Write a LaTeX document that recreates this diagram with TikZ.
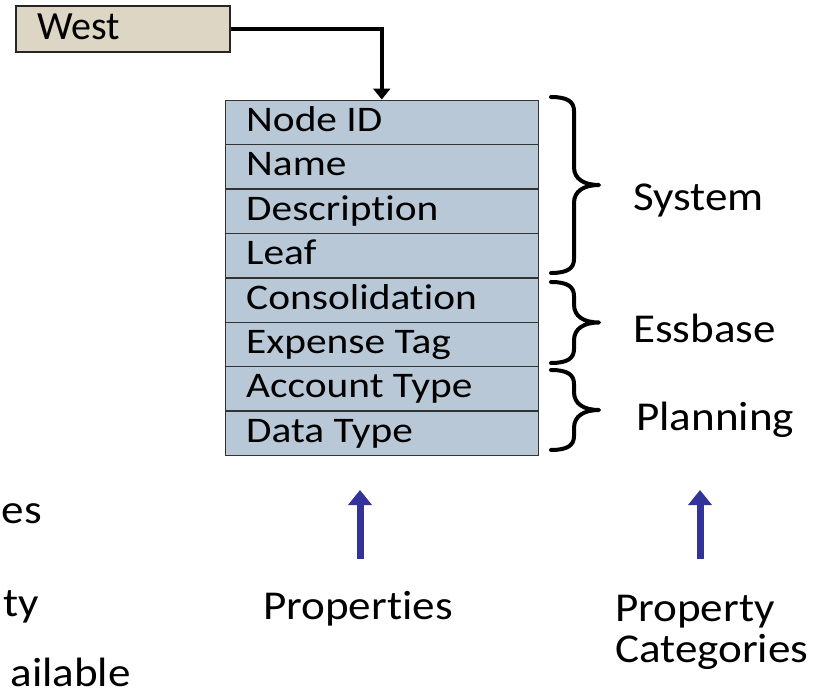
\documentclass[tikz,border=0pt]{standalone}
\usepackage{fontspec}
\setmainfont{Carlito}[Ligatures=CommonOff]
\newfontfamily\tablefont{Carlito}[Ligatures=CommonOff, FakeStretch=1.15]
\newfontfamily\labelfont{Carlito}[Ligatures=CommonOff, FakeStretch=1.1]
\usetikzlibrary{arrows.meta,calc}
\definecolor{westfill}{RGB}{221,214,196}
\definecolor{rowfill}{RGB}{185,200,214}
\definecolor{arrowblue}{RGB}{51,51,153}
\newcommand{\drawbrace}[2]{%
  \pgfmathsetmacro{\ya}{#1}\pgfmathsetmacro{\yb}{#2}\pgfmathsetmacro{\ym}{(#1+#2)/2}%
  \draw[bracestyle] (551,\ya) .. controls (568,\ya) and (574,\ya+5) .. (574,\ya+14)
    -- (574,\ym-18) .. controls (574,\ym-6) and (584,\ym) .. (599,\ym)
    .. controls (584,\ym) and (574,\ym+6) .. (574,\ym+18)
    -- (574,\yb-14) .. controls (574,\yb-5) and (568,\yb) .. (551,\yb);}
\begin{document}
\begin{tikzpicture}[x=1pt,y=-1pt,
  rowtext/.style={font=\tablefont\fontsize{36}{43}\selectfont, inner sep=0pt, anchor=base west},
  lbl/.style={font=\labelfont\fontsize{41}{41}\selectfont, inner sep=0pt},
  rowbox/.style={draw=black!80, line width=1.5pt, fill=rowfill, minimum width=313pt, minimum height=44.4pt, inner sep=0pt, anchor=north west},
  westbox/.style={draw=black!85, line width=2pt, fill=westfill, minimum width=214pt, minimum height=45.5pt, inner sep=0pt, anchor=north west},
  link/.style={line width=4pt, -{Triangle[width=17pt,length=11pt]}},
  bracestyle/.style={line width=4pt, line cap=round, line join=round},
  bluearrow/.style={draw=arrowblue, line width=7pt, -{Triangle[width=23pt,length=15pt]}, arrowblue}
]
\useasboundingbox (0,0) rectangle (823,688);
% West box
\node[westbox] (west) at (15,5) {};
\node[font=\fontsize{40}{48}\selectfont, inner sep=0pt, anchor=base west] (westt) at (37,39.3) {West};
% rows
\node[rowbox] (r1) at (224.5,99.5) {};
\node[rowbox] (r2) at (224.5,143.9) {};
\node[rowbox] (r3) at (224.5,188.3) {};
\node[rowbox] (r4) at (224.5,232.7) {};
\node[rowbox] (r5) at (224.5,277.1) {};
\node[rowbox] (r6) at (224.5,321.5) {};
\node[rowbox] (r7) at (224.5,365.9) {};
\node[rowbox] (r8) at (224.5,410.3) {};
\node[rowtext] (t1) at (246,131.5) {Node ID};
\node[rowtext] (t2) at (246,175.9) {Name};
\node[rowtext] (t3) at (246,220.3) {Description};
\node[rowtext] (t4) at (246,264.7) {Leaf};
\node[rowtext] (t5) at (246,309.1) {Consolidation};
\node[rowtext] (t6) at (246,353.5) {Expense Tag};
\node[rowtext] (t7) at (246,397.9) {Account Type};
\node[rowtext] (t8) at (246,442.3) {Data Type};
% connector
\draw[link] (west.east) -| (r1.north);
% braces
\drawbrace{97}{273}
\drawbrace{282}{363}
\drawbrace{370}{450}
\node[lbl, anchor=base west] (sys) at (633,210) {System};
\node[lbl, anchor=base west] (ess) at (633,342) {Essbase};
\node[lbl, anchor=base west] (pla) at (636,430) {Planning};
% blue arrows
\coordinate (pa1) at (360,559);
\coordinate (pa2) at (360,490);
\coordinate (pb1) at (700,559);
\coordinate (pb2) at (700,490);
\draw[bluearrow] (pa1) -- (pa2);
\draw[bluearrow] (pb1) -- (pb2);
\node[lbl, anchor=base west] (props) at (263,619.3) {Properties};
\node[lbl, anchor=base west, align=left] (cats) at (615,662) {Property\\Categories};
% cropped left text
\node[lbl, anchor=base east] (l1) at (42,523) {es};
\node[lbl, anchor=base east] (l2) at (39,616.7) {ty};
\node[lbl, anchor=base east] (l3) at (131,686) {ailable};
\end{tikzpicture}
\end{document}
